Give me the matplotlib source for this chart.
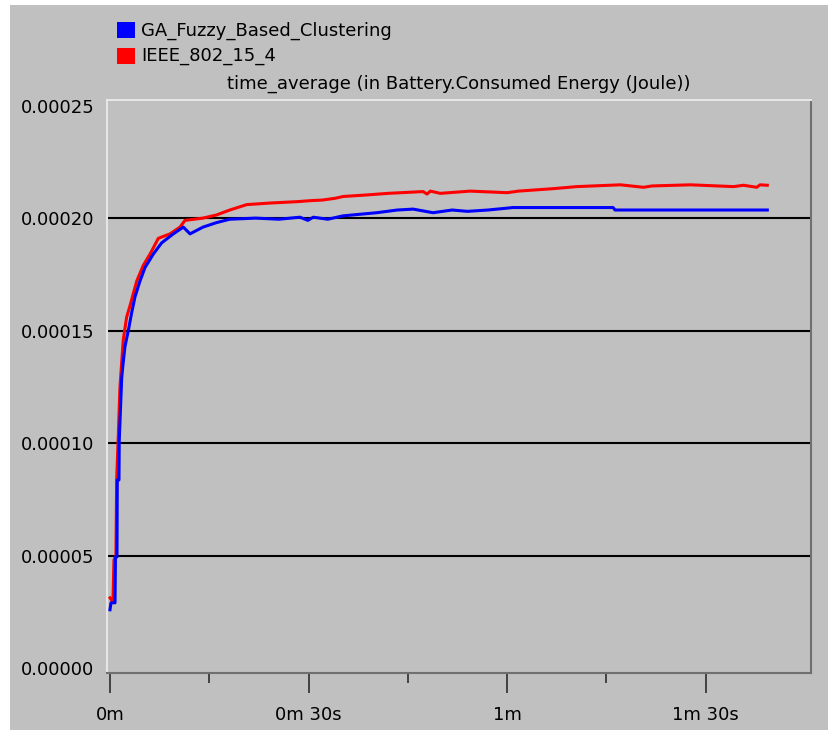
import matplotlib
matplotlib.use("Agg")
from matplotlib import pyplot as plt
from matplotlib.patches import Rectangle
from matplotlib.ticker import FixedLocator

# time in seconds, values in Joule
t_ga = [0, 0.15, 0.76, 0.83, 1.06, 1.1, 1.36, 1.4, 1.77, 2.0, 2.27, 2.77, 3.28, 3.78,
        4.53, 5.29, 6.54, 7.81, 9.57, 11.08, 12.09, 14.05, 16.1, 18.1, 22.0, 25.5,
        28.7, 29.9, 30.7, 32.9, 35.2, 40.3, 43.4, 45.8, 48.8, 51.7, 54.0, 57.1,
        60.9, 62.0, 76.0, 76.3, 99.3]
ga = [2.59e-5, 2.9e-5, 2.9e-5, 4.94e-5, 4.94e-5, 8.36e-5, 8.36e-5, 1.01e-4, 1.29e-4,
      1.36e-4, 1.43e-4, 1.50e-4, 1.58e-4, 1.65e-4, 1.72e-4, 1.78e-4, 1.84e-4,
      1.89e-4, 1.93e-4, 1.96e-4, 1.93e-4, 1.96e-4, 1.98e-4, 1.995e-4, 2.0e-4,
      1.995e-4, 2.004e-4, 1.99e-4, 2.004e-4, 1.995e-4, 2.01e-4, 2.024e-4,
      2.036e-4, 2.04e-4, 2.024e-4, 2.036e-4, 2.03e-4, 2.036e-4, 2.047e-4,
      2.047e-4, 2.047e-4, 2.036e-4, 2.036e-4]

t_ieee = [0, 0.45, 0.6, 0.9, 1.01, 1.25, 1.51, 2.01, 2.52, 3.02, 4.04, 5.03, 6.05,
          7.3, 9.07, 10.58, 11.33, 14.05, 16.1, 18.1, 20.66, 24.2, 28.2, 30.5,
          32.0, 34.0, 35.2, 38.8, 42.0, 47.3, 47.9, 48.4, 49.9, 54.4, 60.0, 61.7,
          67.0, 70.5, 77.1, 80.6, 81.9, 87.7, 94.2, 95.7, 97.7, 98.2, 99.3]
ieee = [3.12e-5, 2.94e-5, 4.8e-5, 5.0e-5, 8.36e-5, 1.03e-4, 1.25e-4, 1.46e-4,
        1.56e-4, 1.61e-4, 1.72e-4, 1.79e-4, 1.84e-4, 1.91e-4, 1.93e-4, 1.96e-4,
        1.99e-4, 2.0e-4, 2.014e-4, 2.036e-4, 2.06e-4, 2.067e-4, 2.073e-4,
        2.078e-4, 2.08e-4, 2.088e-4, 2.096e-4, 2.103e-4, 2.11e-4, 2.118e-4,
        2.107e-4, 2.12e-4, 2.11e-4, 2.12e-4, 2.113e-4, 2.12e-4, 2.131e-4,
        2.14e-4, 2.148e-4, 2.137e-4, 2.143e-4, 2.148e-4, 2.14e-4, 2.146e-4,
        2.137e-4, 2.148e-4, 2.146e-4]

x_ticks = [0, 30, 60, 90]
x_labels = ["0m", "0m 30s", "1m", "1m 30s"]
y_ticks = [0, 0.00005, 0.0001, 0.00015, 0.0002, 0.00025]
y_labels = ["0.00000", "0.00005", "0.00010", "0.00015", "0.00020", "0.00025"]

W, H = 829, 730
bg = "#c0c0c0"
fs = 13
fig = plt.figure(figsize=(W / 100, H / 100), dpi=100, facecolor="white")
fig.patches.append(Rectangle((10 / W, 0), 1, 1 - 5 / H, transform=fig.transFigure,
                             facecolor=bg, edgecolor="none", zorder=-10))

ax = fig.add_axes([107 / W, 1 - 673 / H, (811 - 107) / W, (673 - 100) / H])
ax.set_facecolor(bg)

for y in y_ticks[1:-1]:
    ax.axhline(y, color="black", lw=1.5, zorder=1)

ax.plot(t_ieee, ieee, color="#ff0000", lw=2.2, zorder=2)
ax.plot(t_ga, ga, color="#0000ff", lw=2.2, zorder=3)

ax.set_xlim(-0.45, 105.9)
ax.set_ylim(-2.2e-6, 0.0002525)

ax.set_xticks(x_ticks)
ax.set_xticklabels(x_labels, fontsize=fs)
ax.xaxis.set_minor_locator(FixedLocator([15, 45, 75]))
ax.tick_params(axis="x", which="major", direction="out", length=14.5, width=1.1,
               color="#202020", pad=9)
ax.tick_params(axis="x", which="minor", direction="out", length=7, width=1.1,
               color="#202020")
ax.set_yticks(y_ticks)
ax.set_yticklabels(y_labels, fontsize=fs)
ax.tick_params(axis="y", length=0, pad=9)

ax.spines["top"].set_color("#e6e6e6")
ax.spines["left"].set_color("#e6e6e6")
ax.spines["right"].set_color("#707070")
ax.spines["bottom"].set_color("#707070")
for s in ax.spines.values():
    s.set_linewidth(1.5)

# legend and title as in the OPNET window
fig.patches.append(Rectangle((117 / W, 1 - 38 / H), 18 / W, 16 / H, transform=fig.transFigure,
                             facecolor="#0000ff", edgecolor="none"))
fig.patches.append(Rectangle((117 / W, 1 - 64 / H), 18 / W, 16 / H, transform=fig.transFigure,
                             facecolor="#ff0000", edgecolor="none"))
fig.text(141 / W, 1 - 31 / H, "GA_Fuzzy_Based_Clustering", fontsize=fs, va="center")
fig.text(141 / W, 1 - 56 / H, "IEEE_802_15_4", fontsize=fs, va="center")
fig.text(459 / W, 1 - 84 / H, "time_average (in Battery.Consumed Energy (Joule))",
         fontsize=fs, ha="center", va="center")

fig.savefig("out.png", dpi=100, facecolor=fig.get_facecolor())
